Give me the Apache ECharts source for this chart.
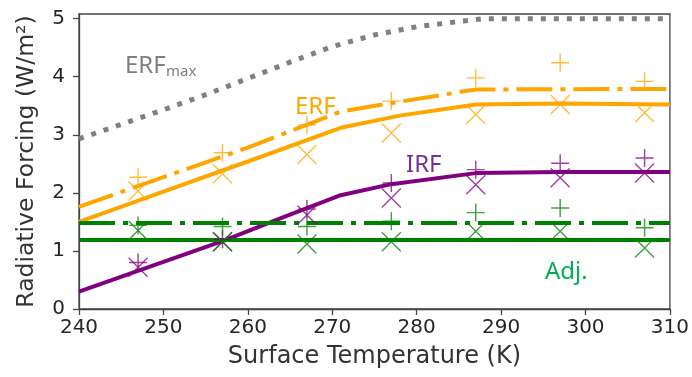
<!DOCTYPE html>
<html>
<head>
<meta charset="utf-8">
<script src="https://cdn.jsdelivr.net/npm/echarts@6/dist/echarts.min.js"></script>
<style>
html, body { margin: 0; padding: 0; background: #fff; }
#chart { width: 692px; height: 377px; }
</style>
</head>
<body>
<div id="chart"></div>
<script>
const xTicks = [240, 250, 260, 270, 280, 290, 300, 310]
const yTicks = [0, 1, 2, 3, 4, 5]

// model curves, [surface temperature, forcing]
const erfMaxLine = [[240, 2.93], [250, 3.43], [255, 3.69], [260, 3.97], [265, 4.25], [270, 4.52], [275, 4.72], [280, 4.86], [285, 4.95], [288, 5.0], [310, 5.0]]
const erfLine = [[240, 1.50], [250, 2.02], [260, 2.54], [271, 3.12], [278, 3.33], [287, 3.52], [297, 3.54], [310, 3.52]]
const erfDashLine = [[240, 1.76], [250, 2.27], [260, 2.78], [271, 3.40], [278, 3.57], [287, 3.78], [310, 3.79]]
const irfLine = [[240, 0.30], [250, 0.81], [257, 1.17], [264, 1.57], [271, 1.96], [277, 2.15], [287, 2.34], [297, 2.36], [310, 2.36]]
const adjLine = [[240, 1.19], [310, 1.19]]
const adjDashLine = [[240, 1.48], [310, 1.48]]

// simulation points
const simTemps = [247, 257, 267, 277, 287, 297, 307]
const erfPlus = [2.27, 2.69, 3.17, 3.58, 3.98, 4.24, 3.92]
const erfCross = [2.03, 2.33, 2.66, 3.03, 3.35, 3.52, 3.38]
const irfPlus = [0.80, 1.20, 1.72, 2.17, 2.40, 2.51, 2.60]
const irfCross = [0.72, 1.16, 1.62, 1.91, 2.14, 2.26, 2.34]
const adjPlus = [1.44, 1.42, 1.42, 1.51, 1.66, 1.74, 1.40]
const adjCross = [1.35, 1.16, 1.12, 1.16, 1.34, 1.34, 1.05]

const ORANGE = '#ffa500'
const PURPLE = '#800080'
const GREEN = '#008000'
const GRAY = '#808080'

const PLUS = 'path://M0,9.2H20V10.8H0Z M9.2,0H10.8V20H9.2Z'
const CROSS = 'path://M0,1L1,0L20,19L19,20Z M19,0L20,1L1,20L0,19Z'
const DASHDOT = [36, 8, 5, 8]

const chart = echarts.init(document.getElementById('chart'), null, { renderer: 'canvas' })

function curve(data, color, type) {
    return {
        type: 'line',
        data,
        showSymbol: false,
        silent: true,
        lineStyle: { color, width: type === 'dotted' ? 5 : 4, type: type === 'dotted' ? [5, 8] : type, cap: 'butt' },
        z: 2,
    }
}

function points(vals, color, symbol, size) {
    return {
        type: 'scatter',
        data: simTemps.map((t, i) => [t, vals[i]]),
        symbol,
        symbolSize: size,
        itemStyle: { color, opacity: 0.75 },
        z: 3,
    }
}

function label(text, x, y, color, size) {
    return {
        type: 'text',
        left: x,
        top: y,
        style: { text, fill: color, font: size + 'px "Noto Sans"', textVerticalAlign: 'middle' },
    }
}

const axisFont = { fontFamily: 'DejaVu Sans', color: '#262626' }

chart.setOption({
    animation: false,
    grid: { left: 79, right: 21, top: 14, bottom: 68, show: true, borderColor: '#444', borderWidth: 1.3 },
    xAxis: {
        type: 'value',
        min: 240,
        max: 310,
        interval: 10,
        name: 'Surface Temperature (K)',
        nameLocation: 'middle',
        nameGap: 36,
        nameTextStyle: { ...axisFont, fontSize: 24, color: '#333' },
        axisLine: { show: true, lineStyle: { color: '#444', width: 1.3 } },
        axisTick: { show: true, length: 6, lineStyle: { color: '#444', width: 1.3 } },
        axisLabel: { ...axisFont, fontSize: 20, margin: 9, customValues: xTicks },
        splitLine: { show: false },
    },
    yAxis: {
        type: 'value',
        min: 0,
        max: 5.08,
        name: 'Radiative Forcing (W/m²)',
        nameLocation: 'middle',
        nameGap: 40,
        nameTextStyle: { ...axisFont, fontSize: 23.5, color: '#333' },
        axisLine: { show: true, lineStyle: { color: '#444', width: 1.3 } },
        axisTick: { show: true, length: 6, customValues: yTicks, lineStyle: { color: '#444', width: 1.3 } },
        axisLabel: { ...axisFont, fontSize: 20, margin: 14, customValues: yTicks },
        splitLine: { show: false },
    },
    series: [
        curve(erfMaxLine, GRAY, 'dotted'),
        curve(erfDashLine, ORANGE, DASHDOT),
        curve(erfLine, ORANGE, 'solid'),
        curve(irfLine, PURPLE, 'solid'),
        curve(adjDashLine, GREEN, DASHDOT),
        curve(adjLine, GREEN, 'solid'),
        points(erfPlus, ORANGE, PLUS, 18),
        points(erfCross, ORANGE, CROSS, 20),
        points(irfPlus, PURPLE, PLUS, 18),
        points(irfCross, PURPLE, CROSS, 20),
        points(adjPlus, GREEN, PLUS, 18),
        points(adjCross, GREEN, CROSS, 20),
    ],
    graphic: [
        label('ERF', 125, 54, '#7f7f7f', 24),
        label('max', 166, 64, '#7f7f7f', 15),
        label('ERF', 295, 95, ORANGE, 24),
        label('IRF', 406, 153, '#7030a0', 24),
        label('Adj.', 545, 260, '#00b050', 24),
    ],
})
</script>
</body>
</html>
